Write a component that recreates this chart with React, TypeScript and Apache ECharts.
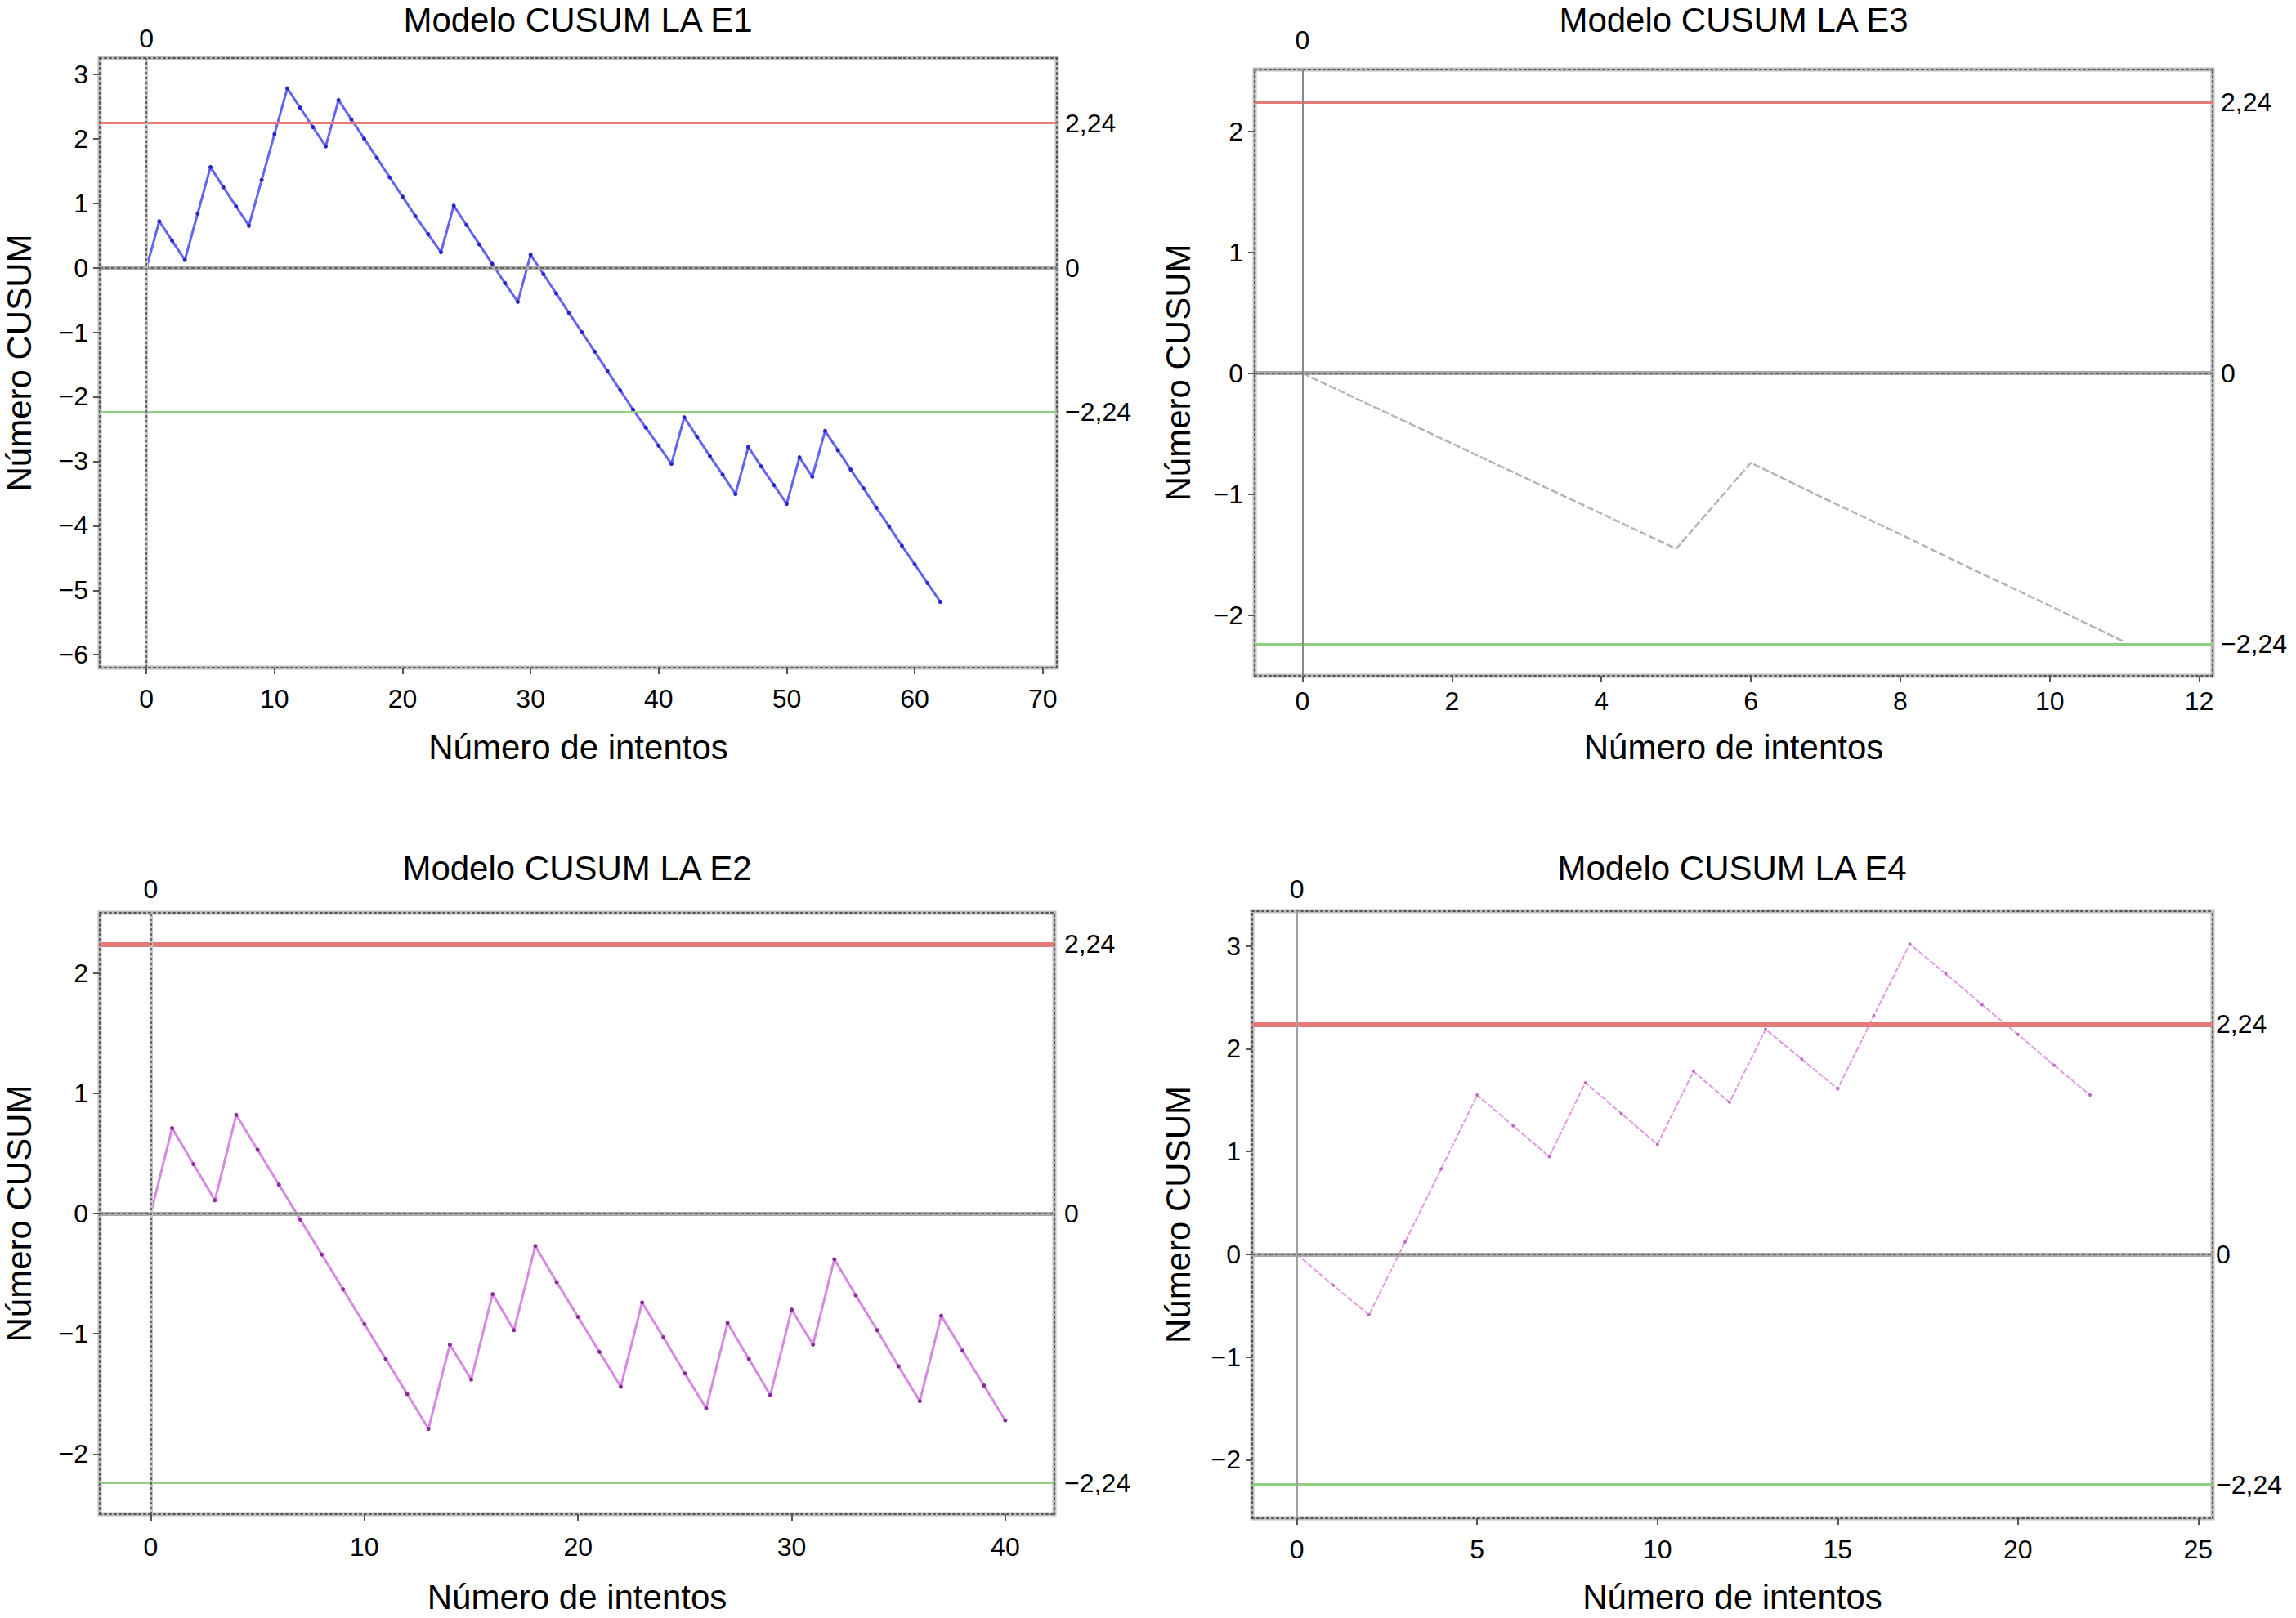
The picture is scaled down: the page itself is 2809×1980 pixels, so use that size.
import { useEffect, useRef } from "react";
import * as echarts from "echarts";

// --- datos ---
const TITLES = ["Modelo CUSUM LA E1", "Modelo CUSUM LA E3", "Modelo CUSUM LA E2", "Modelo CUSUM LA E4"];
const X_NAME = "Número de intentos";
const Y_NAME = "Número CUSUM";
const LIMITS = [-2.24, 0, 2.24];

const E1_VALUES = [
    0, 0.72, 0.42, 0.12, 0.84, 1.56, 1.25, 0.95, 0.65, 1.36, 2.07, 2.78, 2.48, 2.18, 1.88, 2.6, 2.3, 2.0, 1.7, 1.4,
    1.1, 0.8, 0.52, 0.24, 0.96, 0.66, 0.36, 0.06, -0.24, -0.53, 0.2, -0.1, -0.4, -0.7, -1.0, -1.3, -1.6, -1.9, -2.2,
    -2.48, -2.76, -3.04, -2.32, -2.62, -2.92, -3.21, -3.51, -2.78, -3.08, -3.37, -3.66, -2.94, -3.24, -2.53, -2.83,
    -3.13, -3.42, -3.72, -4.01, -4.31, -4.6, -4.89, -5.18,
];
const E3_VALUES = [0, -0.29, -0.58, -0.87, -1.16, -1.45, -0.74, -1.04, -1.33, -1.63, -1.92, -2.22];
const E2_VALUES = [
    0, 0.71, 0.41, 0.11, 0.82, 0.53, 0.24, -0.05, -0.34, -0.63, -0.92, -1.21, -1.5, -1.79, -1.09, -1.38, -0.67, -0.97,
    -0.27, -0.57, -0.86, -1.15, -1.44, -0.74, -1.03, -1.33, -1.62, -0.91, -1.21, -1.51, -0.8, -1.09, -0.38, -0.68,
    -0.97, -1.27, -1.56, -0.85, -1.14, -1.43, -1.72,
];
const E4_VALUES = [
    0, -0.3, -0.59, 0.12, 0.83, 1.55, 1.25, 0.95, 1.67, 1.37, 1.07, 1.78, 1.48, 2.19, 1.9, 1.61, 2.32, 3.02, 2.73,
    2.43, 2.14, 1.84, 1.55,
];

const E1_X_TICKS = [0, 10, 20, 30, 40, 50, 60, 70];
const E1_Y_TICKS = [-6, -5, -4, -3, -2, -1, 0, 1, 2, 3];
const E3_X_TICKS = [0, 2, 4, 6, 8, 10, 12];
const E3_Y_TICKS = [-2, -1, 0, 1, 2];
const E2_X_TICKS = [0, 10, 20, 30, 40];
const E2_Y_TICKS = [-2, -1, 0, 1, 2];
const E4_X_TICKS = [0, 5, 10, 15, 20, 25];
const E4_Y_TICKS = [-2, -1, 0, 1, 2, 3];

// --- disposición y estilos de cada panel ---
const FONT = "Liberation Sans, Arial, Helvetica, sans-serif";

type Panel = {
    values: number[];
    xTicks: number[];
    yTicks: number[];
    box: { left: number; top: number; width: number; height: number };
    xRange: [number, number];
    yRange: [number, number];
    title: [number, number];
    lineColor: string;
    lineWidth: number;
    lineType: any;
    dotColor: string;
    dotSize: number;
    redWidth: number;
    vColor: string;
    vType: any;
    vWidth: number;
    xLabelMargin: number;
    topLabelMargin: number;
    rightLabelMargin: number;
    xNameGap: number;
    yNameGap: number;
};

const PANELS: Panel[] = [
    {
        values: E1_VALUES, xTicks: E1_X_TICKS, yTicks: E1_Y_TICKS,
        box: { left: 122, top: 71, width: 1171, height: 746 },
        xRange: [-3.65, 71.1], yRange: [-6.2, 3.25], title: [707, 24],
        lineColor: "#6464f0", lineWidth: 3, lineType: "solid", dotColor: "#2626c8", dotSize: 5,
        redWidth: 3, vColor: "#666", vType: [3, 3], vWidth: 2,
        xLabelMargin: 22, topLabelMargin: 8, rightLabelMargin: 10, xNameGap: 76, yNameGap: 78,
    },
    {
        values: E3_VALUES, xTicks: E3_X_TICKS, yTicks: E3_Y_TICKS,
        box: { left: 1535, top: 85, width: 1172, height: 742 },
        xRange: [-0.64, 12.18], yRange: [-2.5, 2.51], title: [2121, 24],
        lineColor: "#b4b4b4", lineWidth: 2.5, lineType: [9, 3], dotColor: "#b4b4b4", dotSize: 0,
        redWidth: 3, vColor: "#888", vType: "solid", vWidth: 2,
        xLabelMargin: 15, topLabelMargin: 20, rightLabelMargin: 10, xNameGap: 66, yNameGap: 73,
    },
    {
        values: E2_VALUES, xTicks: E2_X_TICKS, yTicks: E2_Y_TICKS,
        box: { left: 122, top: 1117, width: 1168, height: 736 },
        xRange: [-2.39, 42.3], yRange: [-2.5, 2.5], title: [706, 1062],
        lineColor: "#d68ae2", lineWidth: 3, lineType: "solid", dotColor: "#8a2a9c", dotSize: 5,
        redWidth: 6, vColor: "#666", vType: [3, 3], vWidth: 2,
        xLabelMargin: 24, topLabelMargin: 13, rightLabelMargin: 12, xNameGap: 80, yNameGap: 78,
    },
    {
        values: E4_VALUES, xTicks: E4_X_TICKS, yTicks: E4_Y_TICKS,
        box: { left: 1532, top: 1115, width: 1175, height: 743 },
        xRange: [-1.24, 25.4], yRange: [-2.57, 3.34], title: [2119, 1062],
        lineColor: "#e39ae0", lineWidth: 2, lineType: [7, 2], dotColor: "#c266c6", dotSize: 4,
        redWidth: 6, vColor: "#a0a0a0", vType: "solid", vWidth: 3,
        xLabelMargin: 22, topLabelMargin: 11, rightLabelMargin: 4, xNameGap: 75, yNameGap: 70,
    },
];

const fmtTick = (v: number) => (v < 0 ? "\u2212" + Math.abs(v) : String(v));
const fmtLimit = (v: number) => (v === 0 ? "0" : (v < 0 ? "\u2212" : "") + Math.abs(v).toFixed(2).replace(".", ","));

const frameLine = { show: true, onZero: false, lineStyle: { color: "#555", width: 2, type: [2, 4] as any } };

export default function App() {
    const chartRef = useRef<HTMLDivElement | null>(null);

    useEffect(() => {
        if (!chartRef.current) return;
        const chart = echarts.init(chartRef.current, undefined, { renderer: "svg" });

        const grid: any[] = [];
        const xAxis: any[] = [];
        const yAxis: any[] = [];
        const series: any[] = [];
        const graphic: any[] = [];

        PANELS.forEach((p, i) => {
            grid.push({
                ...p.box,
                show: true,
                borderColor: "#bdbdbd",
                borderWidth: 5,
                backgroundColor: "#fff",
                containLabel: false,
            });

            xAxis.push({
                type: "value",
                gridIndex: i,
                position: "bottom",
                min: p.xRange[0],
                max: p.xRange[1],
                name: X_NAME,
                nameLocation: "middle",
                nameGap: p.xNameGap,
                nameTextStyle: { fontFamily: FONT, fontSize: 42, color: "#000" },
                axisLine: frameLine,
                axisTick: { show: true, customValues: p.xTicks, length: 8, lineStyle: { color: "#555", width: 2 } },
                axisLabel: {
                    customValues: p.xTicks,
                    formatter: fmtTick,
                    margin: p.xLabelMargin,
                    fontFamily: FONT,
                    fontSize: 32,
                    color: "#000",
                },
                splitLine: { show: false },
            });
            xAxis.push({
                type: "value",
                gridIndex: i,
                position: "top",
                min: p.xRange[0],
                max: p.xRange[1],
                axisLine: frameLine,
                axisTick: { show: false },
                axisLabel: {
                    customValues: [0],
                    formatter: () => "0",
                    margin: p.topLabelMargin,
                    fontFamily: FONT,
                    fontSize: 32,
                    color: "#000",
                },
                splitLine: { show: false },
            });

            yAxis.push({
                type: "value",
                gridIndex: i,
                position: "left",
                min: p.yRange[0],
                max: p.yRange[1],
                name: Y_NAME,
                nameLocation: "middle",
                nameGap: p.yNameGap,
                nameTextStyle: { fontFamily: FONT, fontSize: 42, color: "#000" },
                axisLine: frameLine,
                axisTick: { show: true, customValues: p.yTicks, length: 8, lineStyle: { color: "#555", width: 2 } },
                axisLabel: {
                    customValues: p.yTicks,
                    formatter: fmtTick,
                    margin: 14,
                    fontFamily: FONT,
                    fontSize: 32,
                    color: "#000",
                },
                splitLine: { show: false },
            });
            yAxis.push({
                type: "value",
                gridIndex: i,
                position: "right",
                min: p.yRange[0],
                max: p.yRange[1],
                axisLine: frameLine,
                axisTick: { show: false },
                axisLabel: {
                    customValues: LIMITS,
                    formatter: fmtLimit,
                    margin: p.rightLabelMargin,
                    fontFamily: FONT,
                    fontSize: 32,
                    color: "#000",
                },
                splitLine: { show: false },
            });

            // líneas de referencia: límites, cero y vertical en x = 0
            series.push({
                name: `ref${i}`,
                type: "line",
                xAxisIndex: 2 * i,
                yAxisIndex: 2 * i,
                data: [],
                z: 1,
                silent: true,
                markLine: {
                    silent: true,
                    symbol: ["none", "none"],
                    label: { show: false },
                    data: [
                        { yAxis: LIMITS[2], lineStyle: { color: "#e57a7a", width: p.redWidth, type: "solid" } },
                        { yAxis: LIMITS[0], lineStyle: { color: "#8fcf7f", width: 3, type: "solid" } },
                        { yAxis: LIMITS[1], lineStyle: { color: "#a8a8a8", width: 5, type: "solid" } },
                        { yAxis: LIMITS[1], lineStyle: { color: "#666", width: 2, type: [4, 3] } },
                        { xAxis: 0, lineStyle: { color: "#c4c4c4", width: p.vWidth + 2, type: "solid", opacity: p.vType === "solid" ? 0 : 1 } },
                        { xAxis: 0, lineStyle: { color: p.vColor, width: p.vWidth, type: p.vType } },
                    ],
                },
            });

            series.push({
                name: TITLES[i],
                type: "line",
                xAxisIndex: 2 * i,
                yAxisIndex: 2 * i,
                data: p.values.map((v, k) => [k, v]),
                z: 3,
                showSymbol: p.dotSize > 0,
                symbol: "circle",
                symbolSize: p.dotSize,
                itemStyle: { color: p.dotColor },
                lineStyle: { color: p.lineColor, width: p.lineWidth, type: p.lineType },
            });

            graphic.push({
                type: "text",
                x: p.title[0],
                y: p.title[1],
                style: {
                    text: TITLES[i],
                    font: `42px ${FONT}`,
                    fill: "#000",
                    textAlign: "center",
                    textVerticalAlign: "middle",
                },
            });
        });

        chart.setOption({
            animation: false,
            backgroundColor: "#ffffff",
            grid,
            xAxis,
            yAxis,
            series,
            graphic,
        });

        return () => {
            chart.dispose();
        };
    }, []);

    return (
        <div
            ref={chartRef}
            style={{
                position: "absolute",
                left: 0,
                top: 0,
                width: 2809,
                height: 1980,
                background: "#fff",
            }}
        />
    );
}
